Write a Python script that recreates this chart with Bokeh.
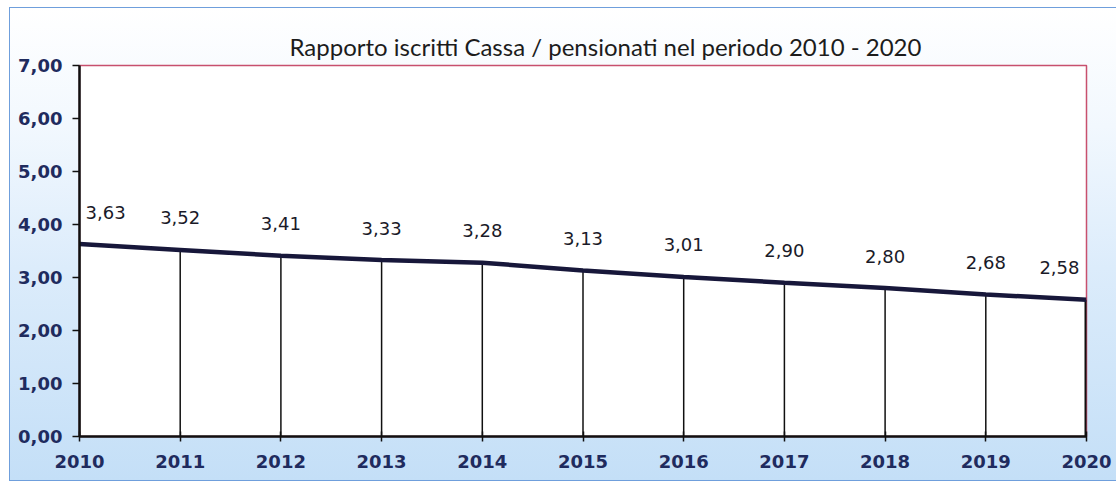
from bokeh.plotting import figure
from bokeh.models import FixedTicker, ColumnDataSource
from bokeh.embed import file_html
from bokeh.resources import INLINE
from bokeh.core.properties import value

years = [2010, 2011, 2012, 2013, 2014, 2015, 2016, 2017, 2018, 2019, 2020]
ratios = [3.63, 3.52, 3.41, 3.33, 3.28, 3.13, 3.01, 2.90, 2.80, 2.68, 2.58]
y_ticks = [0, 1, 2, 3, 4, 5, 6, 7]
y_tick_labels = ["0,00", "1,00", "2,00", "3,00", "4,00", "5,00", "6,00", "7,00"]
title_text = "Rapporto iscritti Cassa / pensionati nel periodo 2010 - 2020"

labels = [f"{v:.2f}".replace(".", ",") for v in ratios]
n = len(years)
aligns = ["left"] + ["center"] * (n - 2) + ["right"]
xoffs = [6] + [0] * (n - 2) + [-7]
zeros = [0] * n
widths = [1.5] * (n - 1) + [4]

src = ColumnDataSource(dict(x=years, y=ratios, lab=labels, al=aligns, xo=xoffs, z=zeros, w=widths))

p = figure(width=1107, height=474, x_range=(2010, 2020), y_range=(0, 7),
           output_backend="svg", toolbar_location=None,
           min_border_left=69, min_border_right=31, min_border_top=57, min_border_bottom=46)

p.styles = {"background": "linear-gradient(to bottom, #ffffff 0%, #f2f8fe 25%, #dcecfb 55%, #c4dff7 100%)",
            "border-left": "1.5px solid #6f9fdc",
            "border-top": "1.5px solid #6f9fdc",
            "border-bottom": "1.5px solid #6f9fdc",
            "margin-left": "9px", "margin-top": "7px"}
p.border_fill_alpha = 0
p.background_fill_color = "white"
p.outline_line_color = "#c8506e"
p.outline_line_width = 1.5
p.grid.visible = False

p.title.text = title_text
p.title.align = "left"
p.title.offset = 210
p.title.text_font = "Lato"
p.title.text_font_size = "24px"
p.title.text_font_style = "normal"
p.title.text_color = "#1c1c1c"
p.title.standoff = 10

# drop lines
p.segment(x0="x", y0="z", x1="x", y1="y", source=src, line_color="#101010", line_width="w")
# main line
p.line(x="x", y="y", source=src, line_color="#17173a", line_width=4.5)
# data labels
p.text(x="x", y="y", text="lab", source=src, text_align="al", x_offset="xo", y_offset=-32,
       text_baseline="middle", text_font=value("DejaVu Sans"), text_font_size="18px",
       text_color="#1a1a28")

for ax in (p.xaxis[0], p.yaxis[0]):
    ax.axis_line_color = "#101010"
    ax.axis_line_width = 2.5
    ax.major_tick_line_color = "#101010"
    ax.major_tick_line_width = 1.5
    ax.minor_tick_line_color = None
    ax.major_label_text_font = "DejaVu Sans"
    ax.major_label_text_font_style = "bold"
    ax.major_label_text_font_size = "18px"
    ax.major_label_text_color = "#1f2b5e"

p.xaxis.ticker = FixedTicker(ticks=years)
p.xaxis.major_tick_in = 5
p.xaxis.major_tick_out = 5
p.xaxis.major_label_standoff = 13

p.yaxis.ticker = FixedTicker(ticks=y_ticks)
p.yaxis.major_label_overrides = {t: l for t, l in zip(y_ticks, y_tick_labels)}
p.yaxis.major_tick_in = 0
p.yaxis.major_tick_out = 7
p.yaxis.major_label_standoff = 10

open("out.html", "w").write(file_html(p, INLINE))
